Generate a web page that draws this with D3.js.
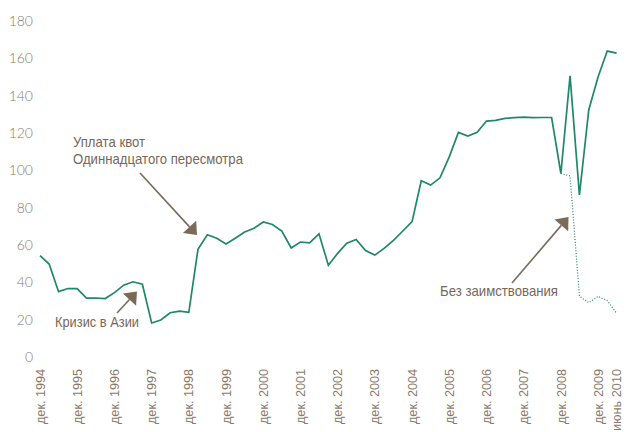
<!DOCTYPE html>
<html>
<head>
<meta charset="utf-8">
<script src="https://cdn.jsdelivr.net/npm/d3@7"></script>
<style>
  body { margin: 0; background: #fff; }
  text { fill: #7f705f; }
  .ytick { font-family: Lato, "Open Sans", sans-serif; font-weight: 300; font-size: 14px; fill: #8a7a69; }
  .xtick { font-family: "Liberation Sans", Arial, sans-serif; font-size: 13px; fill: #8a7a69; }
  .note { font-family: "Liberation Sans", Arial, sans-serif; font-size: 14.5px; fill: #76675a; }
</style>
</head>
<body>
<div id="chart"></div>
<script>
const size = { width: 628, height: 432 };

// quarterly, dec 1994 .. june 2010
const dates = d3.timeMonth.range(new Date(1994, 11, 1), new Date(2010, 6, 1), 3);

const holdings = [
  54.3, 49.8, 35.0, 36.7, 36.6, 31.5, 31.6, 31.3, 34.5, 38.5,
  40.3, 39.0, 18.2, 19.8, 23.7, 24.6, 23.9, 57.7, 65.5, 63.6,
  60.5, 63.6, 67.0, 69.0, 72.3, 71.0, 67.5, 58.4, 61.6, 61.2,
  66.0, 49.2, 55.5, 61.0, 63.0, 57.0, 54.6, 58.2, 62.5, 67.5,
  72.5, 94.4, 92.1, 96.0, 107.2, 120.3, 118.4, 120.4, 126.4, 126.8,
  127.8, 128.2, 128.5, 128.2, 128.3, 128.3, 98.3, 150.6, 86.8, 132.5,
  150.0, 163.9, 162.8
];

// "без заимствования" (dec 2008 .. june 2010)
const noBorrowing = [98.3, 97.0, 32.5, 29.1, 32.5, 30.2, 23.4];

const yTicks = [0, 20, 40, 60, 80, 100, 120, 140, 160, 180];

const xTickDates = [
  [1994, 11], [1995, 11], [1996, 11], [1997, 11], [1998, 11], [1999, 11],
  [2000, 11], [2001, 11], [2002, 11], [2003, 11], [2004, 11], [2005, 11],
  [2006, 11], [2007, 11], [2008, 11], [2009, 11], [2010, 5]
];
const xTickLabels = [
  "дек. 1994", "дек. 1995", "дек. 1996", "дек. 1997", "дек. 1998", "дек. 1999",
  "дек. 2000", "дек. 2001", "дек. 2002", "дек. 2003", "дек. 2004", "дек. 2005",
  "дек. 2006", "дек. 2007", "дек. 2008", "дек. 2009", "июнь 2010"
];

const notes = [
  { lines: ["Уплата квот", "Одиннадцатого пересмотра"], x: 73, y: 146.5, widths: [72, 170],
    from: [140, 173], to: [197, 235] },
  { lines: ["Кризис в Азии"], x: 55, y: 326.5, widths: [84],
    from: [117, 313], to: [137, 291.5] },
  { lines: ["Без заимствования"], x: 440, y: 296, widths: [118],
    from: [512, 283], to: [568.5, 217] }
];

const svg = d3.select("#chart")
  .append("svg")
  .attr("width", size.width)
  .attr("height", size.height);

const x = d3.scaleTime()
  .domain([dates[0], dates[dates.length - 1]])
  .range([40, 616.6]);

const y = d3.scaleLinear()
  .domain([0, 180])
  .range([357, 21]);

// y labels, no axis line
svg.append("g")
  .selectAll("text")
  .data(yTicks)
  .enter().append("text")
    .attr("class", "ytick")
    .attr("x", 33)
    .attr("y", d => y(d))
    .attr("dy", "0.36em")
    .attr("text-anchor", "end")
    .text(d => d);

// x labels, rotated
svg.append("g")
  .selectAll("text")
  .data(xTickDates)
  .enter().append("text")
    .attr("class", "xtick")
    .attr("transform", d => "translate(" + x(new Date(d[0], d[1], 1)) + ",369) rotate(-90)")
    .attr("dy", "0.36em")
    .attr("text-anchor", "end")
    .attr("textLength", (d, i) => i === xTickLabels.length - 1 ? 62 : 55)
    .attr("lengthAdjust", "spacingAndGlyphs")
    .text((d, i) => xTickLabels[i]);

const line = d3.line()
  .x((d, i) => x(dates[i]))
  .y(d => y(d));

svg.append("path")
  .datum(holdings)
  .attr("fill", "none")
  .attr("stroke", "#1f876a")
  .attr("stroke-width", 1.7)
  .attr("stroke-linejoin", "miter")
  .attr("d", line);

const offset = dates.length - noBorrowing.length;
const dotted = d3.line()
  .x((d, i) => x(dates[i + offset]))
  .y(d => y(d));

svg.append("path")
  .datum(noBorrowing)
  .attr("fill", "none")
  .attr("stroke", "#1f876a")
  .attr("stroke-width", 1.2)
  .attr("stroke-dasharray", "1,1.8")
  .attr("d", dotted);

// annotations
notes.forEach(n => {
  const g = svg.append("g");
  n.lines.forEach((t, i) => {
    g.append("text")
      .attr("class", "note")
      .attr("x", n.x)
      .attr("y", n.y + i * 17)
      .attr("textLength", n.widths[i])
      .attr("lengthAdjust", "spacingAndGlyphs")
      .text(t);
  });

  const dx = n.to[0] - n.from[0], dy = n.to[1] - n.from[1];
  const len = Math.sqrt(dx * dx + dy * dy);
  const ux = dx / len, uy = dy / len;
  const headLen = 11, headHalf = 9;
  const bx = n.to[0] - ux * headLen, by = n.to[1] - uy * headLen;

  g.append("line")
    .attr("x1", n.from[0]).attr("y1", n.from[1])
    .attr("x2", bx).attr("y2", by)
    .attr("stroke", "#7a6a58")
    .attr("stroke-width", 1.6);

  g.append("path")
    .attr("fill", "#7a6a58")
    .attr("d", "M" + n.to[0] + "," + n.to[1] +
      "L" + (bx - uy * headHalf) + "," + (by + ux * headHalf) +
      "L" + (bx + uy * headHalf) + "," + (by - ux * headHalf) + "Z");
});
</script>
</body>
</html>
